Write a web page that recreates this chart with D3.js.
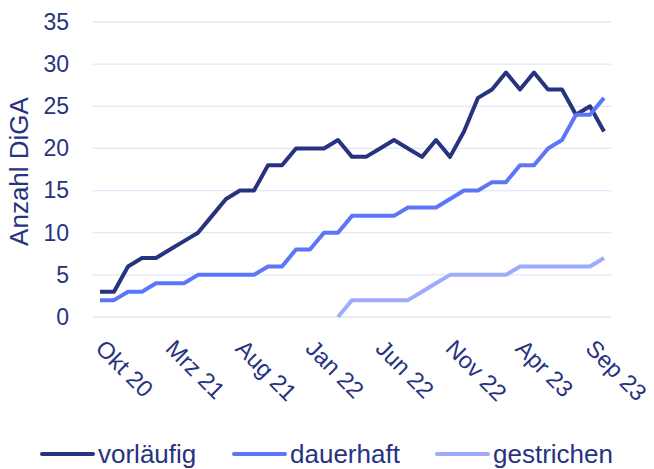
<!DOCTYPE html>
<html lang="de">
<head>
<meta charset="UTF-8">
<title>Anzahl DiGA</title>
<script src="https://d3js.org/d3.v7.min.js"></script>
<style>
  body { margin: 0; background: #fff; }
  text { font-family: "Liberation Sans", Arial, sans-serif; fill: #27337f; }
</style>
</head>
<body>
<div id="chart"></div>
<script>
// Monate Okt 20 .. Okt 23
const monate = ["Okt 20","Nov 20","Dez 20","Jan 21","Feb 21","Mrz 21","Apr 21","Mai 21","Jun 21","Jul 21","Aug 21","Sep 21",
  "Okt 21","Nov 21","Dez 21","Jan 22","Feb 22","Mrz 22","Apr 22","Mai 22","Jun 22","Jul 22","Aug 22","Sep 22",
  "Okt 22","Nov 22","Dez 22","Jan 23","Feb 23","Mrz 23","Apr 23","Mai 23","Jun 23","Jul 23","Aug 23","Sep 23","Okt 23"];
const tickLabels = ["Okt 20","Mrz 21","Aug 21","Jan 22","Jun 22","Nov 22","Apr 23","Sep 23"];

const vorlaeufig = [3,3,6,7,7,8,9,10,12,14,15,15,18,18,20,20,20,21,19,19,20,21,20,19,21,19,22,26,27,29,27,29,27,27,24,25,22];
const dauerhaft  = [2,2,3,3,4,4,4,5,5,5,5,5,6,6,8,8,10,10,12,12,12,12,13,13,13,14,15,15,16,16,18,18,20,21,24,24,26];
const gestrichen = [null,null,null,null,null,null,null,null,null,null,null,null,null,null,null,null,null,0,2,2,2,2,2,3,4,5,5,5,5,5,6,6,6,6,6,6,7];

const yTicks = [0,5,10,15,20,25,30,35];

const serien = [
  {name: "vorläufig", values: vorlaeufig, color: "#27337f"},
  {name: "dauerhaft", values: dauerhaft, color: "#5d76f7"},
  {name: "gestrichen", values: gestrichen, color: "#9eacf9"}
];

const width = 654, height = 469;
const margin = {top: 22, right: 43, bottom: 152, left: 93};
const innerW = width - margin.left - margin.right;
const innerH = height - margin.top - margin.bottom;

const svg = d3.select("#chart").append("svg")
  .attr("width", width)
  .attr("height", height);

const g = svg.append("g").attr("transform", `translate(${margin.left},${margin.top})`);

const x = d3.scaleBand().domain(monate).range([0, innerW]);
const y = d3.scaleLinear().domain([0, 35]).range([innerH, 0]);

// Gitterlinien
g.selectAll(".grid").data(yTicks).enter().append("line")
  .attr("x1", 0).attr("x2", innerW)
  .attr("y1", d => y(d)).attr("y2", d => y(d))
  .attr("stroke", "#e3e6fb").attr("stroke-width", 1.3);

// Y-Achse
const yAxis = g.append("g").call(d3.axisLeft(y).tickValues(yTicks).tickSize(0).tickPadding(24));
yAxis.select(".domain").remove();
yAxis.selectAll("text").style("font-size", "23px").attr("fill", "#27337f")
  .attr("font-family", "Liberation Sans, Arial, sans-serif");

// Achsentitel
svg.append("text")
  .attr("transform", `translate(28,${margin.top + innerH / 2 + 2}) rotate(-90)`)
  .attr("text-anchor", "middle")
  .style("font-size", "26px")
  .text("Anzahl DiGA");

// X-Achse Beschriftungen
const xAxis = g.append("g").attr("transform", `translate(0,${innerH})`)
  .call(d3.axisBottom(x).tickValues(tickLabels).tickSize(0).tickPadding(0));
xAxis.select(".domain").remove();
xAxis.selectAll("text")
  .style("font-size", "23.5px")
  .attr("fill", "#27337f")
  .attr("font-family", "Liberation Sans, Arial, sans-serif")
  .attr("text-anchor", "start")
  .attr("dy", "0.35em")
  .attr("transform", "translate(0,27) rotate(45)");

// Linien
const line = d3.line()
  .defined(d => d != null)
  .x((d, i) => x(monate[i]) + x.bandwidth() / 2)
  .y(d => y(d));

serien.forEach(s => {
  g.append("path")
    .datum(s.values)
    .attr("fill", "none")
    .attr("stroke", s.color)
    .attr("stroke-width", 4)
    .attr("stroke-linejoin", "round")
    .attr("d", line);
});

// Legende
const legendX = [40, 232, 435];
const legend = svg.append("g");
serien.forEach((s, i) => {
  const lg = legend.append("g").attr("transform", `translate(${legendX[i]},454)`);
  lg.append("line")
    .attr("x1", 2).attr("x2", 53)
    .attr("y1", 0).attr("y2", 0)
    .attr("stroke", s.color).attr("stroke-width", 4)
    .attr("stroke-linecap", "round");
  lg.append("text")
    .attr("x", 58).attr("y", 0).attr("dy", "0.35em")
    .style("font-size", "26px")
    .text(s.name);
});
</script>
</body>
</html>
